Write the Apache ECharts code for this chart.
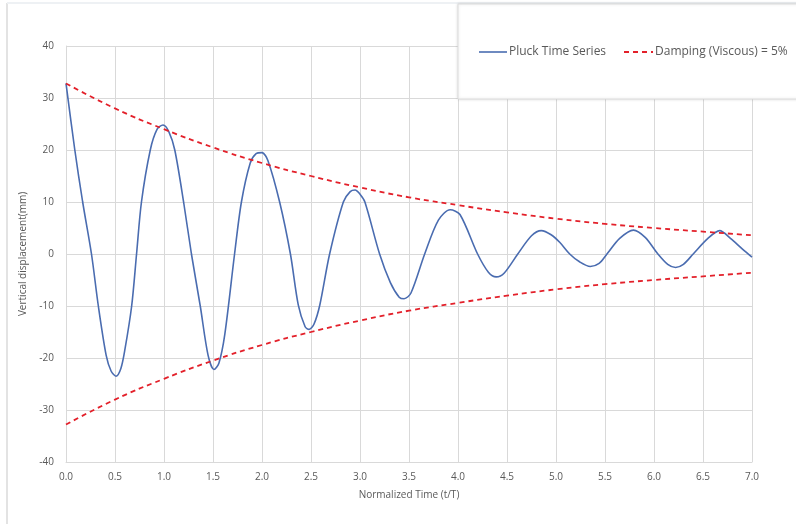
<!DOCTYPE html>
<html>
<head>
<meta charset="utf-8">
<script src="https://cdn.jsdelivr.net/npm/echarts@6/dist/echarts.min.js"></script>
<style>
    html, body { margin: 0; padding: 0; background: #fff; }
    #chart { width: 796px; height: 524px; }
</style>
</head>
<body>
<div id="chart"></div>
<script>
// pluck time series [t/T, mm]
const pluckT = [0, 0.09, 0.17, 0.26, 0.33, 0.41, 0.46, 0.51, 0.56, 0.60, 0.67, 0.72, 0.77, 0.86, 0.93, 0.99, 1.05, 1.11, 1.20, 1.28, 1.37, 1.45, 1.51, 1.56, 1.62, 1.72, 1.79, 1.88, 1.94, 2.00, 2.06, 2.18, 2.29, 2.37, 2.44, 2.48, 2.53, 2.59, 2.69, 2.83, 2.90, 2.95, 3.00, 3.05, 3.20, 3.31, 3.40, 3.45, 3.52, 3.66, 3.80, 3.92, 4.02, 4.20, 4.31, 4.39, 4.47, 4.61, 4.75, 4.85, 4.95, 5.04, 5.14, 5.24, 5.35, 5.44, 5.52, 5.65, 5.79, 5.91, 6.04, 6.14, 6.22, 6.30, 6.40, 6.55, 6.67, 6.78, 6.90, 7.00]
const pluckV = [32.8, 20, 10, 0, -10, -19.5, -22.5, -23.5, -22, -18.5, -10, 0, 10, 20, 24, 24.8, 23.5, 20, 10, 0, -10, -19.5, -22.2, -21, -15.5, 0, 10, 17.5, 19.3, 19.5, 18, 10, 0, -9.8, -14, -14.5, -13.5, -9.8, 0, 10, 12, 12.3, 11.5, 10, 0, -5.5, -8.3, -8.6, -7.5, 0, 6.5, 8.5, 7.6, 0, -3.5, -4.4, -3.7, 0, 3.5, 4.5, 3.7, 2.2, 0, -1.5, -2.4, -1.8, 0, 3, 4.6, 3.2, 0, -2, -2.6, -2, 0, 3, 4.5, 3, 1, -0.6]

// damping envelope (upper half, lower is mirrored)
const envT = [0, 0.5, 1.0, 1.5, 2.0, 2.5, 3.0, 3.5, 4.0, 4.5, 5.0, 5.5, 6.0, 6.5, 7.0]
const envUpper = [32.8, 28.0, 24.0, 20.5, 17.5, 15.0, 12.8, 10.9, 9.4, 8.0, 6.8, 5.8, 5.0, 4.3, 3.6]
const envLower = [-32.8, -28.0, -24.0, -20.5, -17.5, -15.0, -12.8, -10.9, -9.4, -8.0, -6.8, -5.8, -5.0, -4.3, -3.6]

const legendNames = ['Pluck Time Series', 'Damping (Viscous) = 5%']

const blue = '#4a6cb0'
const red = '#e3202a'
const font = "'Open Sans', 'Noto Sans', sans-serif"

let chart = echarts.init(document.getElementById('chart'))
chart.setOption({
    animation: false,
    backgroundColor: '#fff',
    textStyle: { fontFamily: font },
    graphic: [
        {
            type: 'line',
            shape: { x1: 7, y1: 3, x2: 7, y2: 524 },
            style: { stroke: '#e3e3e3', lineWidth: 2 }
        },
        {
            type: 'line',
            shape: { x1: 7, y1: 3, x2: 796, y2: 3 },
            style: { stroke: '#eef1f4', lineWidth: 2 }
        },
        {
            type: 'rect',
            z: 10,
            shape: { x: 458, y: 4, width: 345, height: 95 },
            style: {
                fill: '#fff',
                stroke: '#dcdcdc',
                lineWidth: 1,
                shadowBlur: 3,
                shadowColor: 'rgba(0,0,0,0.12)'
            }
        },
        // legend drawn by hand so the icons are plain / dashed lines
        {
            type: 'line',
            z: 20,
            shape: { x1: 479, y1: 52, x2: 507, y2: 52 },
            style: { stroke: blue, lineWidth: 1.6 }
        },
        {
            type: 'text',
            z: 20,
            x: 509,
            y: 52,
            style: { text: legendNames[0], font: '12px ' + font, fill: '#595959', verticalAlign: 'middle' }
        },
        {
            type: 'line',
            z: 20,
            shape: { x1: 624, y1: 52, x2: 653, y2: 52 },
            style: { stroke: red, lineWidth: 1.8, lineDash: [5, 4] }
        },
        {
            type: 'text',
            z: 20,
            x: 655,
            y: 52,
            style: { text: legendNames[1], font: '12px ' + font, fill: '#595959', verticalAlign: 'middle' }
        }
    ],
    grid: {
        left: 66,
        right: 44,
        top: 46,
        bottom: 62
    },
    xAxis: {
        type: 'value',
        min: 0,
        max: 7,
        interval: 0.5,
        name: 'Normalized Time (t/T)',
        nameLocation: 'middle',
        nameGap: 28,
        nameTextStyle: { fontSize: 10, color: '#595959' },
        axisLine: { show: true, onZero: false, lineStyle: { color: '#d9d9d9' } },
        axisTick: { show: false },
        axisLabel: {
            fontSize: 10,
            color: '#595959',
            margin: 10,
            formatter: v => v.toFixed(1)
        },
        splitLine: { show: true, lineStyle: { color: '#d9d9d9' } }
    },
    yAxis: {
        type: 'value',
        min: -40,
        max: 40,
        interval: 10,
        name: 'Vertical displacement(mm)',
        nameLocation: 'middle',
        nameGap: 34,
        nameTextStyle: { fontSize: 10, color: '#595959' },
        axisLine: { show: true, lineStyle: { color: '#d9d9d9' } },
        axisTick: { show: false },
        axisLabel: { fontSize: 10, color: '#595959', margin: 12 },
        splitLine: { show: true, lineStyle: { color: '#d9d9d9' } }
    },
    series: [
        {
            name: legendNames[0],
            type: 'line',
            smooth: 0.3,
            symbol: 'none',
            lineStyle: { color: blue, width: 1.6 },
            data: pluckT.map((t, i) => [t, pluckV[i]])
        },
        {
            name: legendNames[1],
            type: 'line',
            smooth: true,
            symbol: 'none',
            lineStyle: { color: red, width: 1.8, type: [5, 4] },
            data: envT.map((t, i) => [t, envUpper[i]])
        },
        {
            name: legendNames[1],
            type: 'line',
            smooth: true,
            symbol: 'none',
            lineStyle: { color: red, width: 1.8, type: [5, 4] },
            data: envT.map((t, i) => [t, envLower[i]])
        }
    ]
})
</script>
</body>
</html>
